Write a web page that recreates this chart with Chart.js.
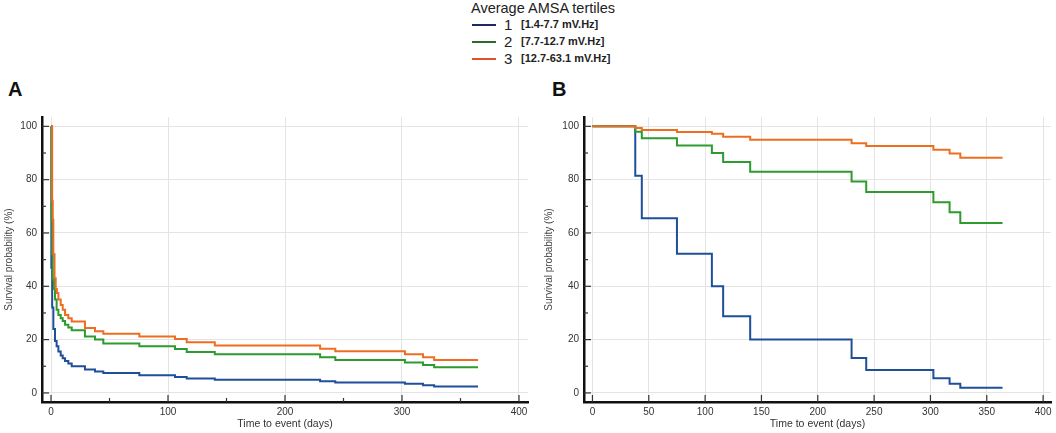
<!DOCTYPE html>
<html>
<head>
<meta charset="utf-8">
<script src="https://cdn.jsdelivr.net/npm/chart.js@4/dist/chart.umd.min.js"></script>
<style>
  body { margin: 0; background: #fff; font-family: "Liberation Sans", Arial, sans-serif; }
  #page { position: relative; width: 1056px; height: 433px; overflow: hidden; }
  .box { position: absolute; }
  .panel { position: absolute; font-weight: bold; font-size: 20px; color: #111; }
  #legend { position: absolute; left: 471px; top: 0px; color: #222; }
  #legend .title { font-size: 14.5px; line-height: 16px; }
  #legend .row { position: relative; height: 17px; }
  #legend .sw { position: absolute; left: 1px; top: 8px; width: 24px; height: 2px; }
  #legend .num { position: absolute; left: 33px; top: 0px; font-size: 15px; }
  #legend .rng { position: absolute; left: 50px; top: 2px; font-size: 11px; font-weight: bold; white-space: nowrap; }
</style>
</head>
<body>
<div id="page">
  <div id="legend">
    <div class="title">Average AMSA tertiles</div>
  </div>
  <div class="panel" style="left:8px; top:78px;">A</div>
  <div class="panel" style="left:552px; top:78px;">B</div>
  <div class="box" style="left:0; top:100px; width:540px; height:333px;"><canvas id="chartA"></canvas></div>
  <div class="box" style="left:540px; top:100px; width:516px; height:333px;"><canvas id="chartB"></canvas></div>
</div>
<script>
// tertile labels
const groups = ['1', '2', '3'];
const ranges = ['[1.4-7.7 mV.Hz]', '[7.7-12.7 mV.Hz]', '[12.7-63.1 mV.Hz]'];
const colors = ['#1f4f99', '#2e9b2e', '#ef6d21'];
const legendColors = ['#1d2a66', '#2c6b2c', '#e0522a'];

// Panel A - Kaplan-Meier steps (days, survival %)
const aDays1 = [0, 0.3, 1, 2, 3.4, 4.8, 6.3, 8.3, 10, 12, 14.8, 17.7, 29, 37.6, 44.7, 75.5, 106, 116, 140, 230, 243, 302.5, 318, 327.5, 365];
const aSurv1 = [100, 47, 32, 24, 19.5, 17.5, 15.5, 14, 13, 12, 11, 10, 8.8, 8, 7.5, 6.6, 6, 5.4, 4.9, 4.4, 3.9, 3.4, 2.9, 2.4, 2.4];
const aDays2 = [0, 0.5, 1, 1.5, 2.5, 3.4, 4.8, 6.3, 8.3, 10, 12, 14.8, 17.7, 29, 37.6, 44.7, 75.5, 106, 116, 140, 230, 243, 302.5, 318, 327.5, 365];
const aSurv2 = [100, 65, 52, 42.5, 39, 35, 31.2, 29.2, 28, 27, 25.6, 24.5, 23.5, 21.2, 20, 18.5, 17.5, 16.5, 15.4, 14.5, 13.4, 12.4, 11.4, 10.5, 9.6, 9.6];
const aDays3 = [0, 1, 1.5, 2, 3, 4, 5, 6.3, 8.3, 10, 12, 14.8, 17.7, 29, 37.6, 44.7, 75.5, 106, 116, 140, 230, 243, 302.5, 318, 327.5, 365];
const aSurv3 = [100, 72, 65, 52, 43, 39, 37.5, 35, 33, 31.2, 29.2, 28, 26.8, 24.4, 23.1, 22.2, 21.2, 20.2, 19, 17.8, 16.6, 15.6, 14.5, 13.4, 12.4, 12.4];

// Panel B
const bDays = [0, 38, 43.8, 75, 106, 116, 140, 230, 243, 302.6, 317, 326.5, 364];
const bSurv1 = [100, 81.5, 65.5, 52.2, 40, 28.8, 20, 13.1, 8.6, 5.5, 3.4, 1.9, 1.9];
const bSurv2 = [100, 98, 95.5, 92.8, 90, 86.6, 83, 79.3, 75.4, 71.5, 67.8, 63.7, 63.7];
const bSurv3 = [100, 99.4, 98.6, 97.9, 97.2, 96.1, 95, 93.7, 92.6, 91.2, 89.8, 88.2, 88.2];

// legend rows
const legend = document.getElementById('legend');
groups.forEach((g, i) => {
  const row = document.createElement('div');
  row.className = 'row';
  row.innerHTML = '<div class="sw" style="background:' + legendColors[i] + '"></div>' +
    '<span class="num">' + g + '</span><span class="rng">' + ranges[i] + '</span>';
  legend.appendChild(row);
});

function pts(xs, ys) {
  return xs.map((x, i) => ({ x: x, y: ys[i] }));
}

function makeSet(data, i) {
  return {
    data: data,
    borderColor: colors[i],
    borderWidth: 2,
    pointRadius: 0,
    stepped: 'before',
    fill: false,
    order: 2 - i
  };
}

// inward tick marks, long on labelled values
const innerTicks = {
  id: 'innerTicks',
  afterDraw(chart, args, opts) {
    const ctx = chart.ctx;
    const xs = chart.scales.x, ys = chart.scales.y;
    ctx.save();
    ctx.strokeStyle = '#333';
    ctx.lineWidth = 1.2;
    ys.ticks.forEach(t => {
      const py = ys.getPixelForValue(t.value);
      const len = t.value % 20 === 0 ? 7 : 4;
      ctx.beginPath();
      ctx.moveTo(xs.left, py);
      ctx.lineTo(xs.left + len, py);
      ctx.stroke();
    });
    xs.ticks.forEach(t => {
      const px = xs.getPixelForValue(t.value);
      const len = t.value % opts.xMajor === 0 ? 7 : 4;
      ctx.beginPath();
      ctx.moveTo(px, ys.bottom);
      ctx.lineTo(px, ys.bottom - len);
      ctx.stroke();
    });
    ctx.restore();
  }
};

const tickFont = { family: '"Liberation Sans", Arial, sans-serif', size: 10 };

function makeOptions(xMin, xMax, xGrid, xLabel, yWidth, pad) {
  return {
    responsive: true,
    maintainAspectRatio: false,
    animation: false,
    layout: { padding: pad },
    plugins: {
      legend: { display: false },
      tooltip: { enabled: false },
      innerTicks: { xMajor: xGrid }
    },
    scales: {
      x: {
        type: 'linear',
        min: xMin,
        max: xMax,
        afterFit(scale) { scale.height = 31; },
        border: { color: '#111', width: 2.5 },
        grid: {
          drawTicks: false,
          color: c => (c.tick && c.tick.value % xGrid === 0) ? '#e4e4e4' : 'rgba(0,0,0,0)'
        },
        ticks: {
          stepSize: 50,
          includeBounds: false,
          padding: 4,
          color: '#333',
          font: tickFont,
          maxRotation: 0,
          autoSkip: false,
          callback: v => v % xLabel === 0 ? String(v) : ''
        },
        title: {
          display: true,
          text: 'Time to event (days)',
          color: '#333',
          font: { family: tickFont.family, size: 10.5 },
          padding: { top: 0, bottom: 3 }
        }
      },
      y: {
        type: 'linear',
        min: -3.4,
        max: 103.5,
        afterFit(scale) { scale.width = yWidth; },
        border: { color: '#111', width: 2.5 },
        grid: {
          drawTicks: false,
          color: c => (c.tick && c.tick.value % 20 === 0) ? '#e4e4e4' : 'rgba(0,0,0,0)'
        },
        ticks: {
          stepSize: 10,
          includeBounds: false,
          padding: 5,
          color: '#333',
          font: tickFont,
          autoSkip: false,
          callback: v => v % 20 === 0 ? String(v) : ''
        },
        title: {
          display: true,
          text: 'Survival probability (%)',
          color: '#444',
          font: { family: tickFont.family, size: 10 },
          padding: { top: 3, bottom: 0 }
        }
      }
    }
  };
}

new Chart(document.getElementById('chartA'), {
  type: 'line',
  data: {
    datasets: [
      makeSet(pts(aDays1, aSurv1), 0),
      makeSet(pts(aDays2, aSurv2), 1),
      makeSet(pts(aDays3, aSurv3), 2)
    ]
  },
  options: makeOptions(-7.7, 407.7, 100, 100, 42, { left: 0, right: 12, top: 17, bottom: 0 }),
  plugins: [innerTicks]
});

new Chart(document.getElementById('chartB'), {
  type: 'line',
  data: {
    datasets: [
      makeSet(pts(bDays, bSurv1), 0),
      makeSet(pts(bDays, bSurv2), 1),
      makeSet(pts(bDays, bSurv3), 2)
    ]
  },
  options: makeOptions(-7.5, 407, 50, 50, 44, { left: 0, right: 5, top: 17, bottom: 0 }),
  plugins: [innerTicks]
});
</script>
</body>
</html>
